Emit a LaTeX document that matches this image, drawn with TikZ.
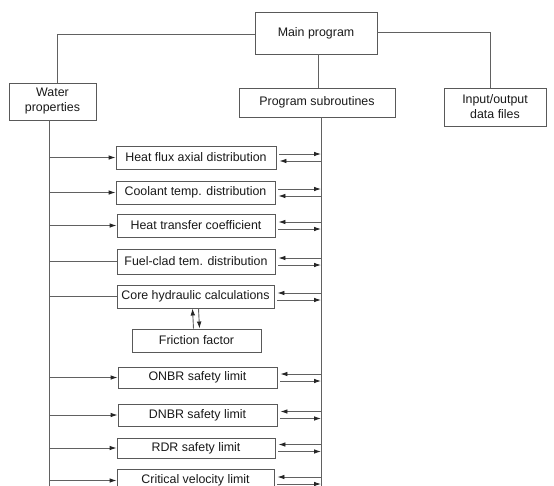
\documentclass[tikz,border=0pt]{standalone}
\usepackage{fontspec}
\setmainfont{Liberation Sans}
\usetikzlibrary{arrows.meta,calc}
\begin{document}
\begin{tikzpicture}[x=1pt,y=-1pt,
  box/.style={draw=black!65, line width=0.9pt, inner sep=0pt, align=center,
    font=\fontsize{12.4}{15}\selectfont, text=black!90},
  ln/.style={draw=black!62, line width=0.9pt},
  arr/.style={ln, -{Latex[length=7pt,width=4.6pt,color=black!85]}}]
\useasboundingbox (0,0) rectangle (554,485);
\clip (0,0) rectangle (554,485);
\fill[white] (0,0) rectangle (554,485);
% top level
\node[box, minimum width=122pt, minimum height=42pt] (main) at (316,33) {Main program};
\node[box, minimum width=87pt, minimum height=37pt] (water) at (52.5,101.5) {Water\\properties};
\node[box, minimum width=156pt, minimum height=29pt] (subs) at (317,102.5) {Program subroutines};
\node[box, minimum width=102pt, minimum height=38pt] (io) at (495,107) {Input/output\\data files};
\coordinate (wtop) at (57,83);
\coordinate (iotop) at (490,88);
\draw[ln] (main.west |- 0,34) -| (wtop);
\draw[ln] (main.east |- 0,32) -| (iotop);
\draw[ln] (subs.north -| 318,0) -- (318,54);
% buses
\coordinate (lbus) at (49.5,500);
\coordinate (rbus) at (321,500);
\draw[ln] (water.south -| lbus) -- (lbus);
\draw[ln] (subs.south -| rbus) -- (rbus);
% subroutine boxes
\node[box, minimum width=160pt, minimum height=23pt] (hf) at (196,157.5) {Heat flux axial distribution};
\node[box, minimum width=159pt, minimum height=23pt] (ct) at (195.5,192.5) {Coolant temp. distribution};
\node[box, minimum width=158pt, minimum height=23pt] (ht) at (196,225.5) {Heat transfer coefficient};
\node[box, minimum width=158pt, minimum height=25pt] (fc) at (196,261.5) {Fuel-clad tem. distribution};
\node[box, minimum width=157pt, minimum height=23pt] (ch) at (195.5,296.5) {Core hydraulic calculations};
\node[box, minimum width=129pt, minimum height=23pt] (ff) at (196.5,340.5) {Friction factor};
\node[box, minimum width=159pt, minimum height=21pt] (onbr) at (197.5,377.5) {ONBR safety limit};
\node[box, minimum width=159pt, minimum height=22pt] (dnbr) at (197.5,415) {DNBR safety limit};
\node[box, minimum width=158pt, minimum height=20pt] (rdr) at (196,448) {RDR safety limit};
\node[box, minimum width=157pt, minimum height=23pt] (cv) at (195.5,480.5) {Critical velocity limit};
% left branches
\foreach \n in {hf,ct,ht,onbr,dnbr,rdr,cv}
  \draw[arr] (lbus |- \n.west) -- (\n.west);
\foreach \n in {fc,ch}
  \draw[ln] (lbus |- \n.west) -- (\n.west);
% right pairs: out (right-pointing) on top
\foreach \n in {hf,ct} {
  \draw[arr] ($(\n.east)+(3,-3.5)$) -- ($(rbus |- \n.east)+(0,-3.5)$);
  \draw[arr] ($(rbus |- \n.east)+(0,3.5)$) -- ($(\n.east)+(3,3.5)$);
}
% right pairs: in (left-pointing) on top
\foreach \n in {ht,fc,ch,onbr,dnbr,rdr,cv} {
  \draw[arr] ($(rbus |- \n.east)+(0,-3.5)$) -- ($(\n.east)+(3,-3.5)$);
  \draw[arr] ($(\n.east)+(3,3.5)$) -- ($(rbus |- \n.east)+(0,3.5)$);
}
% friction factor link
\draw[arr] ([xshift=-3pt]ff.north) -- ([xshift=-3pt]ch.south);
\draw[arr] ([xshift=3pt]ch.south) -- ([xshift=3pt]ff.north);
\end{tikzpicture}
\end{document}
